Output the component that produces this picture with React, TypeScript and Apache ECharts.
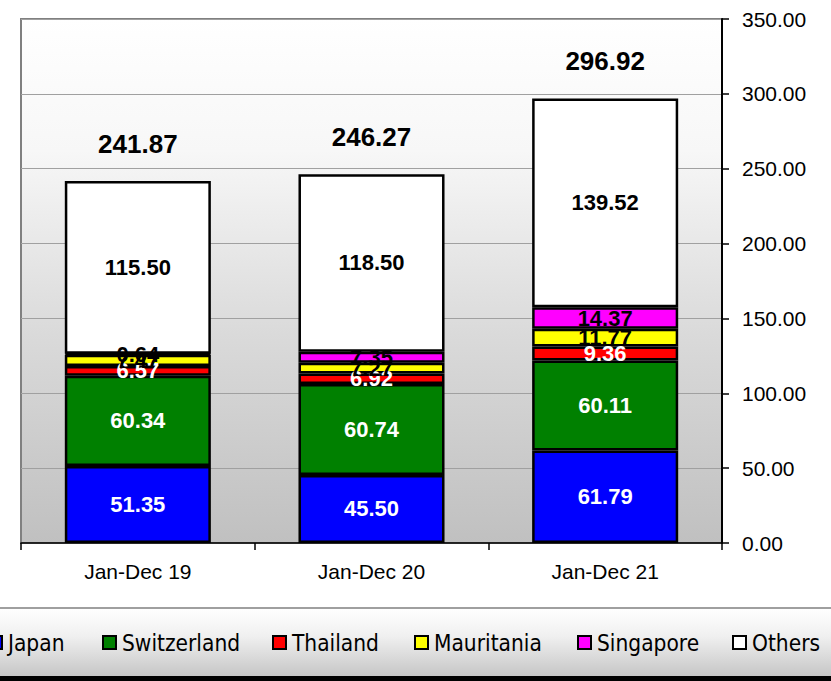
import React, { useEffect, useRef } from "react";
import * as echarts from "echarts";

const categories = ["Jan-Dec 19", "Jan-Dec 20", "Jan-Dec 21"];
const japan = [51.35, 45.5, 61.79];
const switzerland = [60.34, 60.74, 60.11];
const thailand = [6.57, 6.92, 9.36];
const mauritania = [7.47, 7.27, 11.77];
const singapore = [0.64, 7.35, 14.37];
const others = [115.5, 118.5, 139.52];
const totals = [241.87, 246.27, 296.92];
const totalBase = [0, 0, 0];

const seriesDefs = [
  { name: "Japan", data: japan, color: "#0000ff", labelColor: "#ffffff" },
  { name: "Switzerland", data: switzerland, color: "#008000", labelColor: "#ffffff" },
  { name: "Thailand", data: thailand, color: "#ff0000", labelColor: "#ffffff" },
  { name: "Mauritania", data: mauritania, color: "#ffff00", labelColor: "#000000" },
  { name: "Singapore", data: singapore, color: "#ff00ff", labelColor: "#000000" },
  { name: "Others", data: others, color: "#ffffff", labelColor: "#000000" },
];
const legendLefts = [-12, 102, 272, 414, 577, 732];

const FONT = "'Liberation Sans', Arial, sans-serif";
const LEGEND_FONT = "'Liberation Sans Narrow', 'DejaVu Sans Condensed', 'Open Sans', sans-serif";

export default function App() {
  const ref = useRef<HTMLDivElement>(null);
  useEffect(() => {
    if (!ref.current) return;
    const chart = echarts.init(ref.current, null, { renderer: "svg" });
    const series: any[] = seriesDefs.map((s) => ({
      name: s.name,
      type: "bar",
      stack: "total",
      data: s.data,
      barWidth: "62.5%",
      itemStyle: { color: s.color, borderColor: "#000000", borderWidth: 2.5 },
      label: {
        show: true,
        position: "inside",
        color: s.labelColor,
        fontFamily: FONT,
        fontWeight: "bold",
        fontSize: 22,
        formatter: (p: any) => Number(p.value).toFixed(2),
      },
      emphasis: { disabled: true },
    }));
    series.push({
      name: "Total",
      type: "bar",
      stack: "total",
      data: totalBase,
      barWidth: "62.5%",
      itemStyle: { color: "transparent", borderWidth: 0 },
      label: {
        show: true,
        position: "top",
        distance: 24,
        color: "#000000",
        fontFamily: FONT,
        fontWeight: "bold",
        fontSize: 26,
        formatter: (p: any) => totals[p.dataIndex].toFixed(2),
      },
      emphasis: { disabled: true },
    });

    const legends = seriesDefs.map((s, i) => ({
      data: [s.name],
      left: legendLefts[i],
      top: 631,
      padding: 0,
      itemWidth: 13,
      itemHeight: 13,
      icon: "rect",
      itemStyle: { borderColor: "#000000", borderWidth: 2 },
      textStyle: { fontFamily: LEGEND_FONT, fontSize: 22.5, color: "#000000", padding: [0, 0, 0, 1] },
      selectedMode: false,
    }));

    chart.setOption({
      animation: false,
      backgroundColor: "#ffffff",
      graphic: [
        {
          type: "rect",
          z: -10,
          silent: true,
          shape: { x: -5, y: 608, width: 845, height: 70 },
          style: {
            fill: new echarts.graphic.LinearGradient(0, 0, 0, 1, [
              { offset: 0, color: "#ffffff" },
              { offset: 0.4, color: "#f0f0f0" },
              { offset: 1, color: "#c4c4c4" },
            ]),
            stroke: "#808080",
            lineWidth: 1.5,
          },
        },
        {
          type: "rect",
          z: -9,
          silent: true,
          shape: { x: -5, y: 676, width: 845, height: 10 },
          style: { fill: "#000000" },
        },
      ],
      legend: legends,
      grid: {
        left: 21,
        right: 109,
        top: 19,
        bottom: 138,
        show: true,
        backgroundColor: new echarts.graphic.LinearGradient(0, 0, 0, 1, [
          { offset: 0, color: "#ffffff" },
          { offset: 0.25, color: "#f7f7f7" },
          { offset: 0.6, color: "#dadada" },
          { offset: 1, color: "#c0c0c0" },
        ]),
        borderColor: "#808080",
        borderWidth: 2,
      },
      xAxis: {
        type: "category",
        data: categories,
        axisLine: { lineStyle: { color: "#000000", width: 1.5 } },
        axisTick: { show: true, length: 7, interval: 0, lineStyle: { color: "#000000", width: 1.5 } },
        axisLabel: { fontFamily: FONT, fontSize: 21, color: "#000000", margin: 18 },
      },
      yAxis: {
        type: "value",
        position: "right",
        min: 0,
        max: 350,
        interval: 50,
        axisLine: { show: true, lineStyle: { color: "#000000", width: 2 } },
        axisTick: { show: true, length: 7, lineStyle: { color: "#000000", width: 1.5 } },
        axisLabel: {
          fontFamily: FONT,
          fontSize: 21,
          color: "#000000",
          margin: 20,
          formatter: (v: number) => v.toFixed(2),
        },
        splitLine: { show: true, lineStyle: { color: "#a0a0a0", width: 1 } },
      },
      series,
    });
    return () => chart.dispose();
  }, []);
  return (
    <div
      ref={ref}
      style={{ position: "absolute", left: 0, top: 0, width: 831, height: 681, overflow: "hidden" }}
    />
  );
}
